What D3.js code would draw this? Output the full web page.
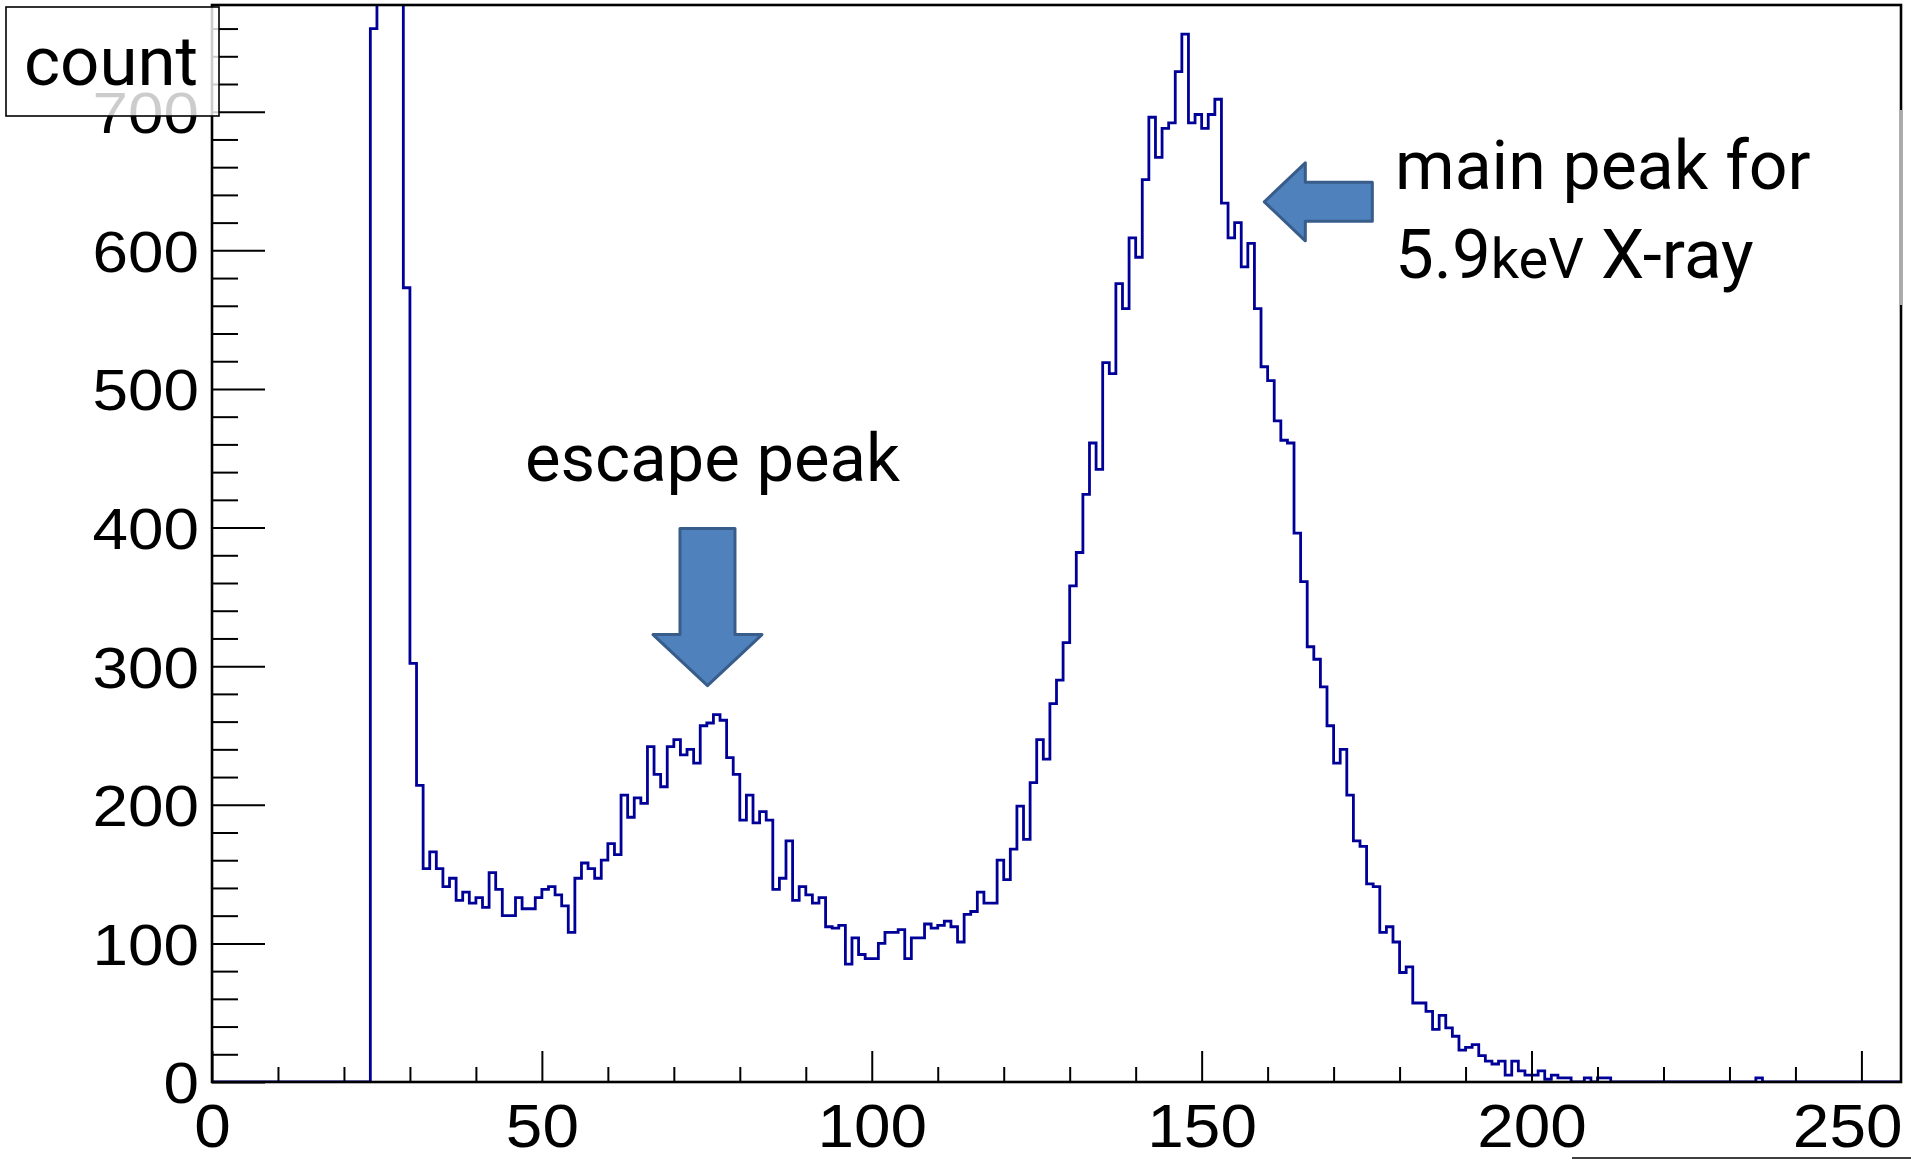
<!DOCTYPE html>
<html lang="en">
<head>
<meta charset="utf-8">
<script src="https://d3js.org/d3.v7.min.js"></script>
<style>
  body { margin: 0; background: #fff; }
  svg text { font-family: "Liberation Sans", Arial, sans-serif; }
  svg text.note { font-family: Roboto, sans-serif; }
</style>
</head>
<body>
<svg id="chart" width="1911" height="1163"></svg>
<script>
// counts per channel (1 channel = 1 bin)
// channels 25-28 run off the top of the frame, so their values are a guess
var counts0to63 = [
  0, 0, 0, 0, 0, 0, 0, 0, 0, 0, 0, 0, 0, 0, 0, 0,
  0, 0, 0, 0, 0, 0, 0, 0, 760, 1400, 1400, 1400, 1400, 573, 302, 214,
  154, 166, 154, 141, 147, 131, 137, 129, 133, 126, 151, 139, 120, 120, 133, 125,
  125, 133, 139, 141, 135, 127, 108, 147, 158, 154, 147, 160, 172, 164, 207, 191
]
var counts64to127 = [
  205, 201, 242, 222, 213, 242, 247, 236, 240, 230, 257, 259, 265, 261, 234, 222,
  189, 207, 187, 195, 189, 139, 147, 174, 131, 141, 135, 129, 133, 112, 111, 113,
  85, 104, 92, 89, 89, 100, 108, 108, 110, 89, 104, 104, 114, 111, 113, 116,
  112, 101, 121, 123, 137, 129, 129, 160, 146, 168, 199, 175, 216, 247, 233, 273
]
var counts128to191 = [
  290, 317, 358, 382, 424, 461, 442, 519, 511, 576, 558, 609, 595, 651, 696, 667,
  688, 692, 729, 756, 692, 698, 688, 698, 709, 634, 609, 620, 588, 605, 558, 516,
  506, 477, 463, 461, 396, 361, 314, 305, 285, 257, 230, 240, 207, 174, 170, 143,
  141, 108, 112, 101, 79, 83, 57, 57, 51, 38, 48, 39, 33, 23, 25, 27
]
var counts192to255 = [
  19, 15, 13, 15, 5, 15, 8, 5, 5, 8, 2, 5, 3, 3, 0, 0,
  3, 0, 3, 3, 0, 0, 0, 0, 0, 0, 0, 0, 0, 0, 0, 0,
  0, 0, 0, 0, 0, 0, 0, 0, 0, 0, 3, 0, 0, 0, 0, 0,
  0, 0, 0, 0, 0, 0, 0, 0, 0, 0, 0, 0, 0, 0, 0, 0
]

var xMajor = [0, 50, 100, 150, 200, 250]
var yMajor = [0, 100, 200, 300, 400, 500, 600, 700]
var xMax = 256
var yMax = 777

var counts = counts0to63.concat(counts64to127, counts128to191, counts192to255)

var frameL = 212, frameR = 1901, frameT = 5, frameB = 1082

var svg = d3.select("#chart")

var x = d3.scaleLinear().domain([0, xMax]).range([frameL, frameR])
var y = d3.scaleLinear().domain([0, yMax]).range([frameB, frameT])

svg.append("defs").append("clipPath").attr("id", "frame")
  .append("rect").attr("x", frameL).attr("y", frameT)
  .attr("width", frameR - frameL).attr("height", frameB - frameT)

// histogram outline
var pts = []
counts.forEach((c, i) => { pts.push([i, c]); pts.push([i + 1, c]) })
var line = d3.line().x(d => x(d[0])).y(d => y(d[1]))
svg.append("path")
  .attr("d", line(pts))
  .attr("clip-path", "url(#frame)")
  .attr("fill", "none")
  .attr("stroke", "#000099")
  .attr("stroke-width", 2.8)

// ticks, drawn inward like ROOT
var xMinor = d3.range(0, xMax, 10).filter(v => v % 50 != 0)
var yMinor = d3.range(0, yMax, 20).filter(v => v % 100 != 0)

function styleAxis(g) {
  g.select(".domain").remove()
  g.selectAll(".tick line").attr("stroke", "#000").attr("stroke-width", 2)
  g.selectAll(".tick text").attr("fill", "#000")
}
// the picture is a little stretched sideways, so widen the labels
function widen(sel, k) {
  sel.each(function () {
    var w = this.getComputedTextLength()
    d3.select(this).attr("textLength", w * k).attr("lengthAdjust", "spacingAndGlyphs")
  })
}

svg.append("g").attr("transform", "translate(0," + frameB + ")")
  .call(d3.axisBottom(x).tickValues(xMinor).tickSize(-15).tickFormat(""))
  .call(styleAxis)
var xLabels = svg.append("g").attr("transform", "translate(0," + frameB + ")")
  .call(d3.axisBottom(x).tickValues(xMajor).tickSize(-31).tickPadding(21).tickFormat(d3.format("d")))
  .call(styleAxis)
  .selectAll("text").attr("font-size", 62)
// last label is pulled in so it ends at the frame edge
xLabels.filter(d => d == 250).attr("text-anchor", "end").attr("x", frameR - x(250) + 1)
widen(xLabels, 1.06)

svg.append("g").attr("transform", "translate(" + frameL + ",0)")
  .call(d3.axisLeft(y).tickValues(yMinor).tickSize(-26).tickFormat(""))
  .call(styleAxis)
var yLabels = svg.append("g").attr("transform", "translate(" + frameL + ",0)")
  .call(d3.axisLeft(y).tickValues(yMajor).tickSize(-53).tickPadding(13).tickFormat(d3.format("d")))
  .call(styleAxis)
  .selectAll("text").attr("font-size", 58).attr("dy", "0.36em")
widen(yLabels, 1.1)

// frame
svg.append("rect")
  .attr("x", frameL).attr("y", frameT)
  .attr("width", frameR - frameL).attr("height", frameB - frameT)
  .attr("fill", "none").attr("stroke", "#000").attr("stroke-width", 2.6)
// lighter piece of the right edge, behind the text box
svg.append("line")
  .attr("x1", frameR).attr("x2", frameR).attr("y1", 110).attr("y2", 305)
  .attr("stroke", "#aaa").attr("stroke-width", 3)

// "count" label box (semi-opaque, sits over the axis)
svg.append("rect")
  .attr("x", 6).attr("y", 7).attr("width", 213).attr("height", 109)
  .attr("fill", "#fff").attr("fill-opacity", 0.8)
  .attr("stroke", "#000").attr("stroke-width", 1.6)
svg.append("text").attr("class", "note")
  .attr("x", 24).attr("y", 85).attr("font-size", 69).text("count")

// annotations
var arrowFill = "#4f81bd", arrowStroke = "#385d8a"

// down arrow over the escape peak
var dTip = [x(75.1), y(286)]
var downArrow = [
  [dTip[0] - 27.5, dTip[1] - 157], [dTip[0] + 27.5, dTip[1] - 157],
  [dTip[0] + 27.5, dTip[1] - 51], [dTip[0] + 54.5, dTip[1] - 51],
  dTip,
  [dTip[0] - 54.5, dTip[1] - 51], [dTip[0] - 27.5, dTip[1] - 51]
]
svg.append("path").attr("d", d3.line()(downArrow) + "Z")
  .attr("fill", arrowFill).attr("stroke", arrowStroke)
  .attr("stroke-width", 3).attr("stroke-linejoin", "round")

// left arrow toward the main peak
var lTip = [x(159.5), y(635)]
var leftArrow = [
  lTip, [lTip[0] + 41, lTip[1] - 39], [lTip[0] + 41, lTip[1] - 19.5],
  [lTip[0] + 108, lTip[1] - 19.5], [lTip[0] + 108, lTip[1] + 19.5],
  [lTip[0] + 41, lTip[1] + 19.5], [lTip[0] + 41, lTip[1] + 39]
]
svg.append("path").attr("d", d3.line()(leftArrow) + "Z")
  .attr("fill", arrowFill).attr("stroke", arrowStroke)
  .attr("stroke-width", 3).attr("stroke-linejoin", "round")

svg.append("text").attr("class", "note")
  .attr("x", 525).attr("y", 481).attr("font-size", 67).text("escape peak")

svg.append("text").attr("class", "note")
  .attr("x", 1395).attr("y", 189).attr("font-size", 68).text("main peak for")
var t2 = svg.append("text").attr("class", "note")
  .attr("x", 1395).attr("y", 278).attr("font-size", 69)
t2.append("tspan").text("5.9")
t2.append("tspan").attr("font-size", 56).text("keV")
t2.append("tspan").text(" X-ray")

// stray edge of a neighbouring box at the bottom right
svg.append("line")
  .attr("x1", 1572).attr("x2", 1911).attr("y1", 1158).attr("y2", 1158)
  .attr("stroke", "#000").attr("stroke-width", 1.5)
</script>
</body>
</html>
